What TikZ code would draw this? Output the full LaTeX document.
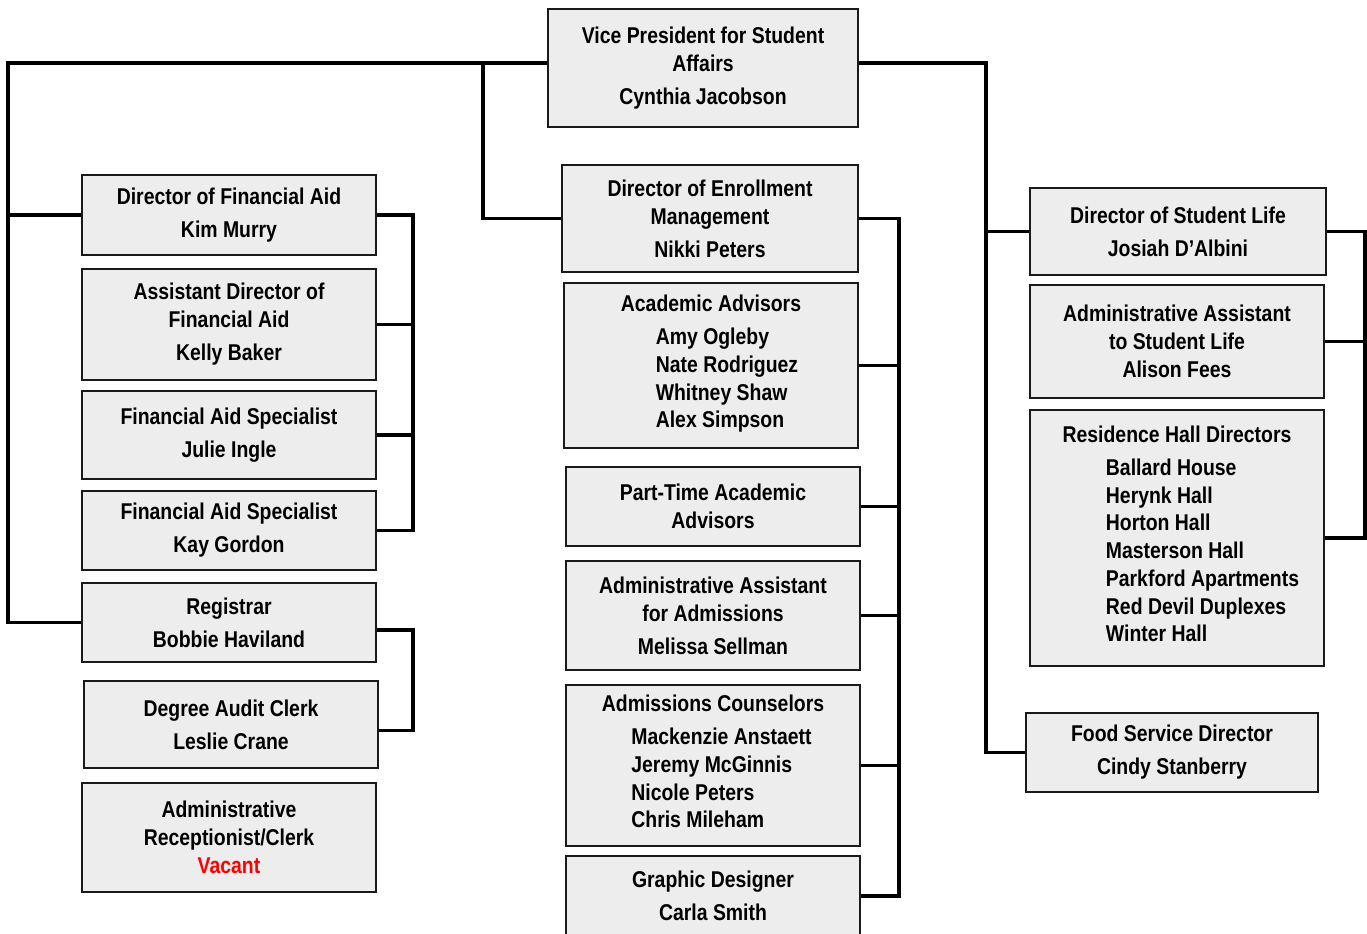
\documentclass[tikz,border=0pt]{standalone}
\usepackage{fontspec}
\newfontfamily\chartfont{Liberation Sans}[FakeStretch=0.85]
\definecolor{boxGray}{HTML}{EDEDED}
\definecolor{lineDark}{HTML}{1A1A1A}
\definecolor{vacantRed}{HTML}{FF0000}

\begin{document}
\begin{tikzpicture}[font=\chartfont\bfseries\fontsize{13}{15.8}\selectfont,
    unit/.style={draw=lineDark, line width=1.4pt, fill=boxGray, align=center,
      inner sep=2pt, minimum width=5.88cm},
    link/.style={line width=2pt, line join=miter}]
    \useasboundingbox (0,0) rectangle (27.34,18.68);
    % top
    \node[unit, minimum width=6.20cm, minimum height=2.36cm] (vp) at (14.06,17.32)
      {Vice President for Student\\Affairs\\[3pt]Cynthia Jacobson};
    % financial aid and registrar
    \node[unit, minimum height=1.60cm] (fad) at (4.58,14.38) {Director of Financial Aid\\[3pt]Kim Murry};
    \node[unit, minimum height=2.22cm] (afd) at (4.58,12.19) {Assistant Director of\\Financial Aid\\[3pt]Kelly Baker};
    \node[unit, minimum height=1.76cm] (fas1) at (4.58,9.98) {Financial Aid Specialist\\[3pt]Julie Ingle};
    \node[unit, minimum height=1.58cm] (fas2) at (4.58,8.07) {Financial Aid Specialist\\[3pt]Kay Gordon};
    \node[unit, minimum height=1.58cm] (reg) at (4.58,6.23) {Registrar\\[3pt]Bobbie Haviland};
    \node[unit, minimum height=1.74cm] (dac) at (4.62,4.19) {Degree Audit Clerk\\[3pt]Leslie Crane};
    \node[unit, minimum height=2.18cm] (arc) at (4.58,1.93)
      {Administrative\\Receptionist/Clerk\\{\color{vacantRed}Vacant}};
    % enrollment
    \node[unit, minimum width=5.92cm, minimum height=2.14cm] (dem) at (14.20,14.31)
      {Director of Enrollment\\Management\\[3pt]Nikki Peters};
    \node[unit, minimum height=3.30cm] (aca) at (14.22,11.37)
      {Academic Advisors\\[3pt]\hspace*{0.64cm}\begin{tabular}[t]{@{}l@{}}Amy Ogleby\\Nate Rodriguez\\Whitney Shaw\\Alex Simpson\end{tabular}};
    \node[unit, minimum height=1.58cm] (pta) at (14.26,8.55) {Part-Time Academic\\Advisors};
    \node[unit, minimum height=2.18cm] (aaa) at (14.26,6.37)
      {Administrative Assistant\\for Admissions\\[3pt]Melissa Sellman};
    \node[unit, minimum height=3.22cm] (adc) at (14.26,3.37)
      {Admissions Counselors\\[3pt]\hspace*{0.34cm}\begin{tabular}[t]{@{}l@{}}Mackenzie Anstaett\\Jeremy McGinnis\\Nicole Peters\\Chris Mileham\end{tabular}};
    \node[unit, minimum height=1.60cm] (gds) at (14.26,0.76) {Graphic Designer\\[3pt]Carla Smith};
    % student life
    \node[unit, minimum width=5.92cm, minimum height=1.74cm] (dsl) at (23.56,14.05)
      {Director of Student Life\\[3pt]Josiah D’Albini};
    \node[unit, minimum height=2.26cm] (asl) at (23.54,11.85)
      {Administrative Assistant\\to Student Life\\Alison Fees};
    \node[unit, minimum height=5.12cm] (rhd) at (23.54,7.92)
      {Residence Hall Directors\\[3pt]\hspace*{1.02cm}\begin{tabular}[t]{@{}l@{}}Ballard House\\Herynk Hall\\Horton Hall\\Masterson Hall\\Parkford Apartments\\Red Devil Duplexes\\Winter Hall\end{tabular}};
    \node[unit, minimum width=5.84cm, minimum height=1.58cm] (fsd) at (23.44,3.63)
      {Food Service Director\\[3pt]Cindy Stanberry};
    % connectors from the top
    \coordinate (ltop) at (0.16,17.42);
    \coordinate (mtop) at (9.66,17.42);
    \coordinate (rtop) at (19.72,17.42);
    \draw[link] (ltop -| vp.west) -- (ltop) |- (reg.west);
    \draw[link] (fad.west) -- (fad.west -| ltop);
    \draw[link] (mtop) |- (dem.west);
    \draw[link] (rtop -| vp.east) -- (rtop) |- (fsd.west);
    \draw[link] (dsl.west) -- (dsl.west -| rtop);
    % brackets
    \coordinate (fbar) at (8.26,0);
    \draw[link] (fad.east) -| (fbar |- fas2.east) -- (fas2.east);
    \foreach \n in {afd,fas1} \draw[link] (\n.east) -- (\n.east -| fbar);
    \coordinate (regout) at ([yshift=-0.15cm]reg.east);
    \coordinate (dacin) at ([yshift=-0.12cm]dac.east);
    \draw[link] (regout) -| (fbar |- dacin) -- (dacin);
    \coordinate (mbar) at (17.98,0);
    \draw[link] (dem.east) -| (mbar |- gds.east) -- (gds.east);
    \foreach \n in {aca,pta,aaa,adc} \draw[link] (\n.east) -- (\n.east -| mbar);
    \coordinate (rbar) at (27.30,0);
    \draw[link] (dsl.east) -| (rbar |- rhd.east) -- (rhd.east);
    \draw[link] (asl.east) -- (asl.east -| rbar);
  \end{tikzpicture}
\end{document}
